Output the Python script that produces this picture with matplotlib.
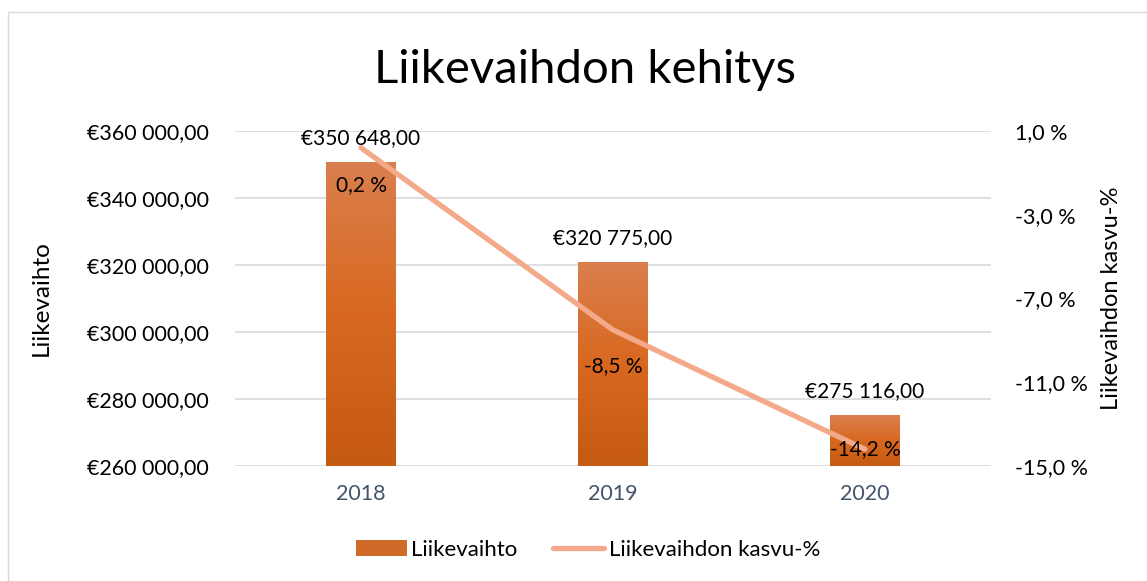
import matplotlib
matplotlib.use("Agg")
import matplotlib.pyplot as plt
import numpy as np
from matplotlib.colors import LinearSegmentedColormap
from matplotlib.patches import Patch, Rectangle
from matplotlib.lines import Line2D
from matplotlib.ticker import FuncFormatter

plt.rcParams['font.family'] = ['Lato', 'DejaVu Sans']

# data
years = ['2018', '2019', '2020']
revenue = [350648.00, 320775.00, 275116.00]
growth = [0.2, -8.5, -14.2]
left_ticks = [260000, 280000, 300000, 320000, 340000, 360000]
right_ticks = [1.0, -3.0, -7.0, -11.0, -15.0]


def eur(v, pos=None):
    s = f"{v:,.2f}".replace(",", " ").replace(".", ",")
    return "€" + s


def pct(v, pos=None):
    return f"{v:.1f}".replace(".", ",") + " %"


fig = plt.figure(figsize=(11.47, 5.81), dpi=100)
fig.patches.append(Rectangle((8 / 1147, -0.1), 1.2, 1 - 12 / 581 + 0.1,
                             transform=fig.transFigure, fill=False,
                             edgecolor='#D9D9D9', linewidth=1))
ax = fig.add_axes([235 / 1147, 1 - 466 / 581, 756 / 1147, 335 / 581])
x = np.arange(len(years))

bars = ax.bar(x, revenue, width=0.275, color='none', zorder=2)
grad = LinearSegmentedColormap.from_list('g', ['#C55A11', '#D8681F', '#DA7F4E'])
for b in bars:
    g = np.linspace(0, 1, 256).reshape(-1, 1)
    ax.imshow(g, cmap=grad, origin='lower', aspect='auto', zorder=2,
              extent=(b.get_x(), b.get_x() + b.get_width(), 260000, b.get_height()))
ax.set_ylim(260000, 360000)
ax.set_xlim(-0.5, 2.5)

for xi, v in zip(x, revenue):
    ax.annotate(eur(v), (xi, v), xytext=(0, 10), textcoords='offset points',
                ha='center', va='bottom', fontsize=15, color='black')

ax.set_yticks(left_ticks)
ax.yaxis.set_major_formatter(FuncFormatter(eur))
ax.set_xticks(x)
ax.set_xticklabels(years)
ax.tick_params(axis='y', length=0, pad=19, labelsize=15.5, colors='black')
ax.tick_params(axis='x', length=0, pad=13, labelsize=15.5, labelcolor='#44546A')
ax.grid(axis='y', color='#D9DDE3', linewidth=1.3, zorder=0)
ax.set_axisbelow(True)
for s in ax.spines.values():
    s.set_visible(False)
ax.set_ylabel('Liikevaihto', fontsize=17.5, labelpad=25)

ax2 = ax.twinx()
ax2.plot(x, growth, color='#F4A98A', linewidth=3.8, solid_capstyle='round', zorder=3)
ax2.set_ylim(-15, 1)
ax2.set_yticks(right_ticks)
ax2.yaxis.set_major_formatter(FuncFormatter(pct))
ax2.tick_params(axis='y', length=0, pad=17, labelsize=15.5, colors='black')
for s in ax2.spines.values():
    s.set_visible(False)
ax2.set_ylabel('Liikevaihdon kasvu-%', fontsize=17, labelpad=10)

offsets = [-27, -26, 0]
for xi, v, off in zip(x, growth, offsets):
    ax2.annotate(pct(v), (xi, v), xytext=(0, off), textcoords='offset points',
                 ha='center', va='center', fontsize=15, color='black')

fig.text(585 / 1147, 1 - 70 / 581, 'Liikevaihdon kehitys', ha='center', va='center',
         fontsize=34)

handles = [Patch(facecolor='#D06A28', edgecolor='none'),
           Line2D([0], [0], color='#F4A98A', linewidth=3.8, solid_capstyle='round')]
fig.legend(handles, ['Liikevaihto', 'Liikevaihdon kasvu-%'], loc='center',
           bbox_to_anchor=(588 / 1147, 1 - 550 / 581), ncol=2, frameon=False,
           fontsize=16, handlelength=2.3, columnspacing=1.6, handletextpad=0.2)

fig.savefig('out.png', dpi=100)
